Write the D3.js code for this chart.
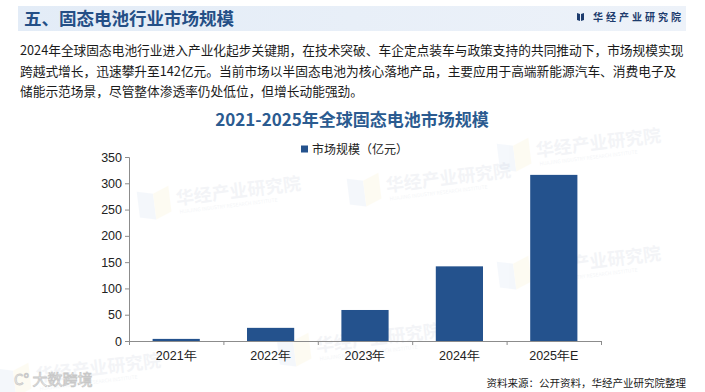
<!DOCTYPE html>
<html>
  <head>
    <meta charset="utf-8" />
    <title>2021-2025年全球固态电池市场规模</title>
    <style>
      body {
        margin: 0;
        background: #fff;
      }
      svg text {
        font-family: "Noto Sans CJK SC", "Noto Sans", sans-serif;
      }
      .num {
        font-family: "Liberation Sans", Arial, sans-serif !important;
      }
    </style>
  </head>
  <body>
    <svg id="chart"></svg>

    <script src="https://d3js.org/d3.v7.min.js"></script>
    <script>
      const years = ["2021年", "2022年", "2023年", "2024年", "2025年E"];
      const marketSize = [4, 25, 59, 142, 316];
      const yTicks = [0, 50, 100, 150, 200, 250, 300, 350];
      const seriesName = "市场规模（亿元）";
      const paragraph = [
        "2024年全球固态电池行业进入产业化起步关键期，在技术突破、车企定点装车与政策支持的共同推动下，市场规模实现",
        "跨越式增长，迅速攀升至142亿元。当前市场以半固态电池为核心落地产品，主要应用于高端新能源汽车、消费电子及",
        "储能示范场景，尽管整体渗透率仍处低位，但增长动能强劲。",
      ];

      const width = 705;
      const height = 392;
      const margin = { top: 157, right: 104, bottom: 51, left: 129 };
      const barColor = "#24528d";
      const axisColor = "#8c8c8c";

      const svg = d3
        .select("#chart")
        .attr("width", width)
        .attr("height", height);

      // watermarks (very faint)
      const marks = [
        [200, 198], [410, 185], [560, 150], [340, 345], [560, 268], [60, 375],
      ];
      marks.forEach(([x, y]) => {
        const g = svg
          .append("g")
          .attr("transform", `translate(${x},${y}) rotate(-7)`)
          .attr("opacity", 0.08);
        g.append("path")
          .attr("d", "M-62,-14 L-46,-10 L-46,16 L-62,12 Z")
          .attr("fill", "#7ea6d8");
        g.append("path")
          .attr("d", "M-46,-10 L-30,-16 L-30,10 L-46,16 Z")
          .attr("fill", "#f1d46a");
        g.append("text")
          .attr("x", -24)
          .attr("y", 4)
          .attr("font-size", 18)
          .attr("font-weight", "bold")
          .attr("fill", "#6d82a0")
          .text("华经产业研究院");
        g.append("text")
          .attr("x", -22)
          .attr("y", 13)
          .attr("font-size", 5)
          .attr("fill", "#6d82a0")
          .text("HUAJING INDUSTRY RESEARCH INSTITUTE");
      });

      // header band
      const grad = svg
        .append("defs")
        .append("linearGradient")
        .attr("id", "band");
      grad.append("stop").attr("offset", "0%").attr("stop-color", "#e3ecf7");
      grad.append("stop").attr("offset", "100%").attr("stop-color", "#edf2f9");
      svg
        .append("rect")
        .attr("x", 18)
        .attr("y", 6)
        .attr("width", 668)
        .attr("height", 25)
        .attr("fill", "url(#band)");
      svg
        .append("text")
        .attr("x", 24)
        .attr("y", 25)
        .attr("font-size", 17.5)
        .attr("font-weight", "bold")
        .attr("fill", "#244f86")
        .text("五、固态电池行业市场规模");

      // logo at the right of the band
      svg
        .append("path")
        .attr("d", "M577,13 L580,14 L580,21 L577,20 Z M581,14 L584,13 L584,20 L581,21 Z")
        .attr("fill", "#1d3c6e");
      svg
        .append("text")
        .attr("x", 593)
        .attr("y", 20.5)
        .attr("font-size", 10)
        .attr("font-weight", "bold")
        .attr("letter-spacing", 3)
        .attr("fill", "#1d3c6e")
        .text("华经产业研究院");

      // paragraph, font sized so the full lines end at the right margin
      const para = svg
        .append("g")
        .selectAll("text")
        .data(paragraph)
        .join("text")
        .attr("x", 20)
        .attr("y", (d, i) => 55 + i * 20.5)
        .attr("font-size", 13.5)
        .attr("fill", "#1a1a1a")
        .text((d) => d);
      const firstLen = para.node().getComputedTextLength();
      para.attr("font-size", 13.5 * (664 / firstLen));

      // chart title
      svg
        .append("text")
        .attr("x", 352)
        .attr("y", 126)
        .attr("text-anchor", "middle")
        .attr("font-size", 17)
        .attr("font-weight", "bold")
        .attr("fill", "#2b5b90")
        .text("2021-2025年全球固态电池市场规模");

      // legend
      svg
        .append("rect")
        .attr("x", 301)
        .attr("y", 145.5)
        .attr("width", 7)
        .attr("height", 7)
        .attr("fill", barColor);
      svg
        .append("text")
        .attr("x", 312)
        .attr("y", 153.5)
        .attr("font-size", 12)
        .attr("fill", "#222")
        .text(seriesName);

      const xScale = d3
        .scaleBand()
        .domain(years)
        .range([margin.left, width - margin.right])
        .paddingInner(0.5)
        .paddingOuter(0.25);

      const yScale = d3
        .scaleLinear()
        .domain([0, 350])
        .range([height - margin.bottom, margin.top]);

      // y axis
      const yAxis = svg
        .append("g")
        .attr("transform", `translate(${margin.left},0)`)
        .call(d3.axisLeft(yScale).tickValues(yTicks).tickSize(4).tickPadding(3));
      yAxis.select(".domain").attr("stroke", axisColor);
      yAxis.selectAll(".tick line").attr("stroke", axisColor);
      yAxis
        .selectAll(".tick text")
        .attr("class", "num")
        .attr("font-size", 12.5)
        .attr("fill", "#222");

      // bars
      svg
        .append("g")
        .selectAll("rect")
        .data(years)
        .join("rect")
        .attr("x", (d) => xScale(d))
        .attr("y", (d, i) => yScale(marketSize[i]))
        .attr("width", xScale.bandwidth())
        .attr("height", (d, i) => yScale(0) - yScale(marketSize[i]))
        .attr("fill", barColor);

      // x axis with ticks between categories
      const x0 = yScale(0);
      const bounds = years.map((d) => xScale(d) - (xScale.step() - xScale.bandwidth()) / 2);
      bounds.push(width - margin.right);
      const xAxis = svg.append("g");
      xAxis
        .append("line")
        .attr("x1", margin.left)
        .attr("x2", width - margin.right)
        .attr("y1", x0 + 0.5)
        .attr("y2", x0 + 0.5)
        .attr("stroke", axisColor);
      xAxis
        .selectAll(".tk")
        .data(bounds)
        .join("line")
        .attr("x1", (d) => d + 0.5)
        .attr("x2", (d) => d + 0.5)
        .attr("y1", x0)
        .attr("y2", x0 + 4)
        .attr("stroke", axisColor);
      xAxis
        .selectAll("text")
        .data(years)
        .join("text")
        .attr("class", "num")
        .attr("x", (d) => xScale(d) + xScale.bandwidth() / 2)
        .attr("y", x0 + 19)
        .attr("text-anchor", "middle")
        .attr("font-size", 12.5)
        .attr("fill", "#222")
        .text((d) => d);

      // bottom-left faint logo
      svg
        .append("text")
        .attr("x", 14)
        .attr("y", 385)
        .attr("font-size", 15)
        .attr("fill", "none")
        .attr("stroke", "#c8c8c8")
        .attr("stroke-width", 0.8)
        .text("C° 大数跨境");

      // source
      svg
        .append("text")
        .attr("x", 686)
        .attr("y", 387)
        .attr("text-anchor", "end")
        .attr("font-size", 10.5)
        .attr("fill", "#1a1a1a")
        .text("资料来源：公开资料，华经产业研究院整理");
    </script>
  </body>
</html>
